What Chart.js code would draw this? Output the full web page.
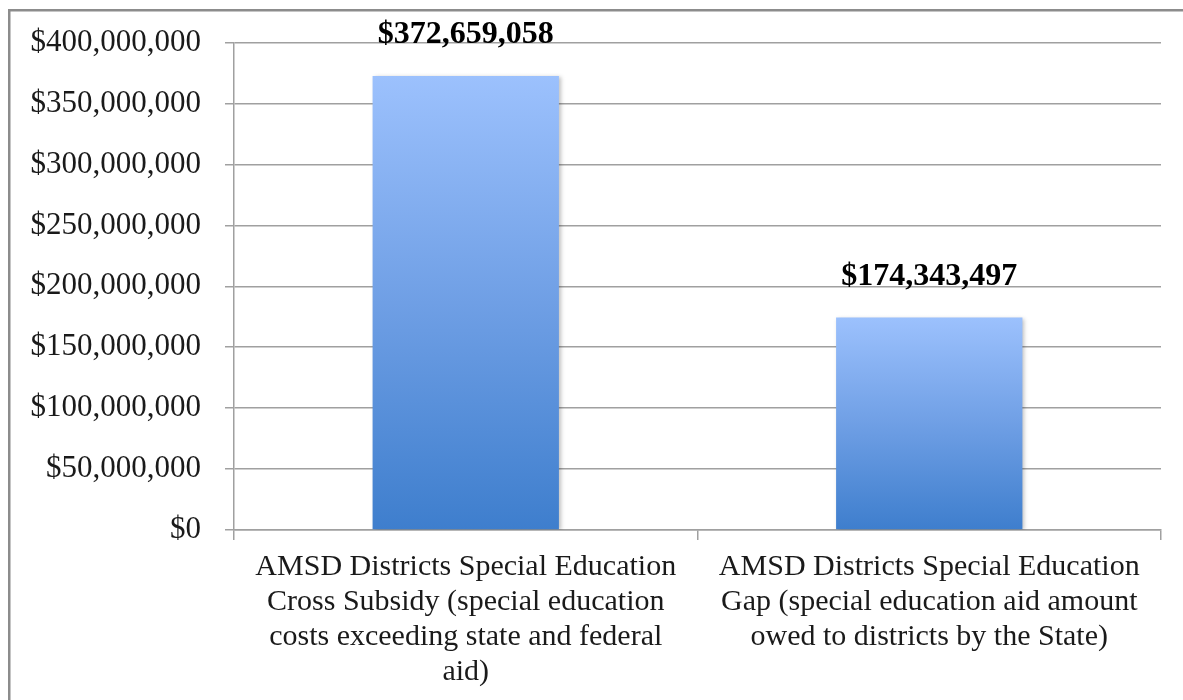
<!DOCTYPE html>
<html>
<head>
<meta charset="utf-8">
<script src="https://cdn.jsdelivr.net/npm/chart.js@4"></script>
<style>
html,body{margin:0;padding:0;background:#fff;}
#wrap{position:relative;width:1183px;height:700px;}
</style>
</head>
<body>
<div id="wrap"><canvas id="c" width="1183" height="700"></canvas></div>
<script>
const categories = [
  ["AMSD Districts Special Education", "Cross Subsidy (special education", "costs exceeding state and federal", "aid)"],
  ["AMSD Districts Special Education", "Gap (special education aid amount", "owed to districts by the State)"]
];
const values = [372659058, 174343497];
const yTicks = [0, 50000000, 100000000, 150000000, 200000000, 250000000, 300000000, 350000000, 400000000];

const FONT = "'Liberation Serif', 'Times New Roman', serif";
const fmt = v => '$' + Math.round(v).toLocaleString('en-US');

const framePlugin = {
  id: 'frame',
  beforeDraw(chart) {
    const c = chart.ctx;
    c.save();
    c.fillStyle = '#fff';
    c.fillRect(0, 0, chart.width, chart.height);
    c.strokeStyle = '#8c8c8c';
    c.lineWidth = 2.5;
    c.strokeRect(9.25, 10.25, 1300, 800);
    c.restore();
  }
};

const shadowPlugin = {
  id: 'barShadow',
  beforeDatasetDraw(chart) {
    const c = chart.ctx;
    c.save();
    c.shadowColor = 'rgba(0,0,0,0.25)';
    c.shadowBlur = 4;
    c.shadowOffsetX = 2;
    c.shadowOffsetY = 1;
  },
  afterDatasetDraw(chart) {
    chart.ctx.restore();
  }
};

const labelPlugin = {
  id: 'valueLabels',
  afterDatasetsDraw(chart) {
    const c = chart.ctx;
    const meta = chart.getDatasetMeta(0);
    c.save();
    c.font = "bold 32px " + FONT;
    c.fillStyle = '#000';
    c.textAlign = 'center';
    c.textBaseline = 'alphabetic';
    meta.data.forEach((el, i) => {
      c.fillText(fmt(values[i]), el.x, el.y - 33);
    });
    c.restore();
  }
};

new Chart(document.getElementById('c'), {
  type: 'bar',
  data: {
    labels: categories,
    datasets: [{
      data: values,
      backgroundColor: (ctx) => {
        const chart = ctx.chart;
        if (!chart.chartArea || ctx.raw === undefined) return '#6a9be4';
        const ys = chart.scales.y;
        const top = ys.getPixelForValue(ctx.raw);
        const bot = ys.getPixelForValue(0);
        const g = chart.ctx.createLinearGradient(0, top, 0, bot);
        g.addColorStop(0, '#9cc1fd');
        g.addColorStop(0.5, '#6f9fe5');
        g.addColorStop(1, '#3e7ecd');
        return g;
      },
      borderWidth: 0,
      categoryPercentage: 1,
      barPercentage: 0.402
    }]
  },
  options: {
    responsive: false,
    animation: false,
    devicePixelRatio: 1,
    layout: { padding: { left: 10, right: 22, top: 42, bottom: 0 } },
    plugins: { legend: { display: false }, tooltip: { enabled: false } },
    scales: {
      x: {
        grid: { display: true, drawOnChartArea: false, drawTicks: true, tickLength: 10, color: '#a0a0a0', lineWidth: 1.5, offset: true },
        border: { display: true, color: '#a0a0a0', width: 1.5 },
        ticks: { color: '#1a1a1a', font: { family: FONT, size: 30, lineHeight: 1.16 }, padding: 10, maxRotation: 0, autoSkip: false },
        afterFit(s) { s.height = 170; }
      },
      y: {
        min: 0, max: 400000000,
        afterBuildTicks(s) { s.ticks = yTicks.map(v => ({ value: v })); },
        grid: { color: '#a0a0a0', lineWidth: 1.5, tickLength: 9, drawTicks: true },
        border: { display: true, color: '#a0a0a0', width: 1.5 },
        ticks: { color: '#1a1a1a', font: { family: FONT, size: 31 }, padding: 24, callback: v => fmt(v) },
        afterFit(s) { s.width = 224; }
      }
    }
  },
  plugins: [framePlugin, shadowPlugin, labelPlugin]
});
</script>
</body>
</html>
